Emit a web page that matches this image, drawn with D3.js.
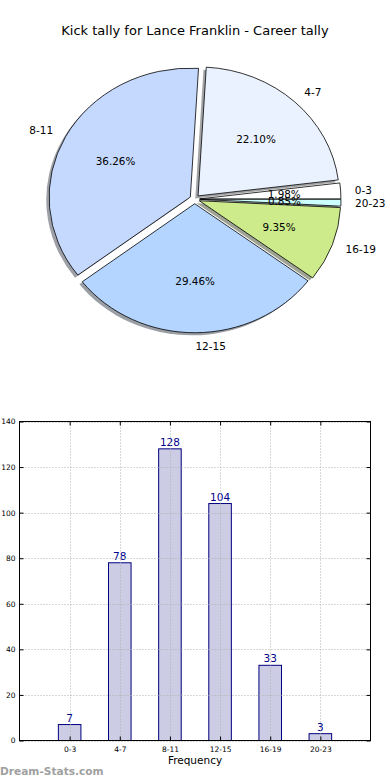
<!DOCTYPE html>
<html><head><meta charset="utf-8">
<script src="https://cdn.jsdelivr.net/npm/d3@7"></script>
<style>body{margin:0;background:#fff}svg{display:block}text{font-family:"DejaVu Sans",sans-serif}</style>
</head><body>
<svg id="c" width="390" height="780"></svg>
<script>
const title = "Kick tally for Lance Franklin - Career tally";
const categories = ["0-3","4-7","8-11","12-15","16-19","20-23"];
const values = [7,78,128,104,33,3];
const pieColors = ["#ffffff","#eaf2ff","#c5d9ff","#b3d5ff","#cdeb8b","#ccffff"];
const yTicks = [0,20,40,60,80,100,120,140];
const xLabel = "Frequency";
const watermark = "Dream-Stats.com";

const svg = d3.select("#c");
svg.append("text").attr("x",195).attr("y",30).attr("text-anchor","middle")
  .attr("dominant-baseline","central").attr("font-size",13).attr("fill","#000").text(title);

// ---- Pie (matplotlib style, elliptical) ----
const cx = 194.7, cy = 199.2, rx = 141.3, ry = 129, explode = 0.035;
const total = d3.sum(values);
const pie = d3.pie().sort(null).startAngle(Math.PI/2).endAngle(Math.PI/2 + 2*Math.PI);
const arcs = pie(values);
const arc = d3.arc().innerRadius(0).outerRadius(1);
const thetaMid = d => ((d.startAngle + d.endAngle)/2) - Math.PI/2;
const pg = svg.append("g");
// shadows
arcs.forEach((d,i)=>{
  const t = thetaMid(d);
  const ox = cx + explode*rx*Math.cos(t) - 0.02*rx, oy = cy - explode*ry*Math.sin(t) + 0.02*ry;
  const c = d3.rgb(pieColors[i]);
  pg.append("path").attr("d", arc(d))
    .attr("transform",`translate(${ox},${oy}) scale(${rx},${-ry})`)
    .attr("fill", d3.rgb(c.r*0.3,c.g*0.3,c.b*0.3)).attr("fill-opacity",0.5).attr("stroke","none");
});
arcs.forEach((d,i)=>{
  const t = thetaMid(d);
  const ox = cx + explode*rx*Math.cos(t), oy = cy - explode*ry*Math.sin(t);
  pg.append("path").attr("d", arc(d))
    .attr("transform",`translate(${ox},${oy}) scale(${rx},${-ry})`)
    .attr("fill", pieColors[i]).attr("stroke","#000").attr("stroke-width",0.8)
    .attr("vector-effect","non-scaling-stroke").attr("stroke-linejoin","round");
});
arcs.forEach((d,i)=>{
  const t = thetaMid(d);
  const ox = cx + explode*rx*Math.cos(t), oy = cy - explode*ry*Math.sin(t);
  const lx = ox + 1.1*rx*Math.cos(t), ly = oy - 1.1*ry*Math.sin(t);
  svg.append("text").attr("x",lx).attr("y",ly).attr("font-size",10.5)
    .attr("text-anchor", Math.cos(t) > 0 ? "start" : "end").attr("dominant-baseline","central")
    .text(categories[i]);
  const px = ox + 0.6*rx*Math.cos(t), py = oy - 0.6*ry*Math.sin(t);
  svg.append("text").attr("x",px).attr("y",py).attr("font-size",10.4)
    .attr("text-anchor","middle").attr("dominant-baseline","central")
    .text((values[i]/total*100).toFixed(2) + "%");
});

// ---- Bar chart ----
const L = 19.5, R = 370.5, T = 421.5, B = 740.5;
const x = d3.scaleLinear().domain([-1, categories.length]).range([L, R]);
const y = d3.scaleLinear().domain([0, 140]).range([B, T]);
const bw = 0.45;
const bg = svg.append("g");
bg.selectAll("rect.bar").data(values).join("rect").attr("class","bar")
  .attr("x",(d,i)=>x(i - bw/2)).attr("y",d=>y(d))
  .attr("width",x(bw)-x(0)).attr("height",d=>y(0)-y(d))
  .attr("fill","#ccccE4").attr("stroke","#000080").attr("stroke-width",1);
// grid
const grid = svg.append("g").attr("stroke","#b0b0b0").attr("stroke-width",1).attr("stroke-dasharray","1,2");
yTicks.forEach(v=>grid.append("line").attr("x1",L).attr("x2",R).attr("y1",Math.round(y(v))+0.5).attr("y2",Math.round(y(v))+0.5));
categories.forEach((c,i)=>grid.append("line").attr("x1",Math.round(x(i))+0.5).attr("x2",Math.round(x(i))+0.5).attr("y1",T).attr("y2",B));
// frame
svg.append("rect").attr("x",L).attr("y",T).attr("width",R-L).attr("height",B-T)
  .attr("fill","none").attr("stroke","#000").attr("stroke-width",1);
// axes with inward ticks
const ax = d3.axisBottom(x).tickValues(d3.range(categories.length)).tickFormat(i=>categories[i]).tickSizeInner(-4).tickSizeOuter(0).tickPadding(6);
const gx = svg.append("g").attr("transform",`translate(0,${B})`).call(ax);
gx.select(".domain").remove();
gx.selectAll("text").attr("font-size",7.5).attr("font-family","DejaVu Sans");
const ay = d3.axisLeft(y).tickValues(yTicks).tickSizeInner(-4).tickSizeOuter(0).tickPadding(4);
const gy = svg.append("g").attr("transform",`translate(${L},0)`).call(ay);
gy.select(".domain").remove();
gy.selectAll("text").attr("font-size",7.5).attr("font-family","DejaVu Sans");
// top/right ticks
const gt = svg.append("g").attr("transform",`translate(0,${T})`).call(d3.axisTop(x).tickValues(d3.range(categories.length)).tickSizeInner(-4).tickSizeOuter(0).tickFormat(""));
gt.select(".domain").remove();
const gr = svg.append("g").attr("transform",`translate(${R},0)`).call(d3.axisRight(y).tickValues(yTicks).tickSizeInner(-4).tickSizeOuter(0).tickFormat(""));
gr.select(".domain").remove();
// value labels
bg.selectAll("text.val").data(values).join("text").attr("class","val")
  .attr("x",(d,i)=>x(i)).attr("y",d=>y(d)-3).attr("text-anchor","middle")
  .attr("font-size",10.5).attr("fill","#00008b").text(d=>d);
svg.append("text").attr("x",195).attr("y",760).attr("text-anchor","middle")
  .attr("dominant-baseline","central").attr("font-size",10.5).text(xLabel);
svg.append("text").attr("x",0).attr("y",771).attr("dominant-baseline","central")
  .attr("font-size",10.6).attr("font-weight","bold").attr("fill","#a0a0a0").text(watermark);
</script>
</body></html>
